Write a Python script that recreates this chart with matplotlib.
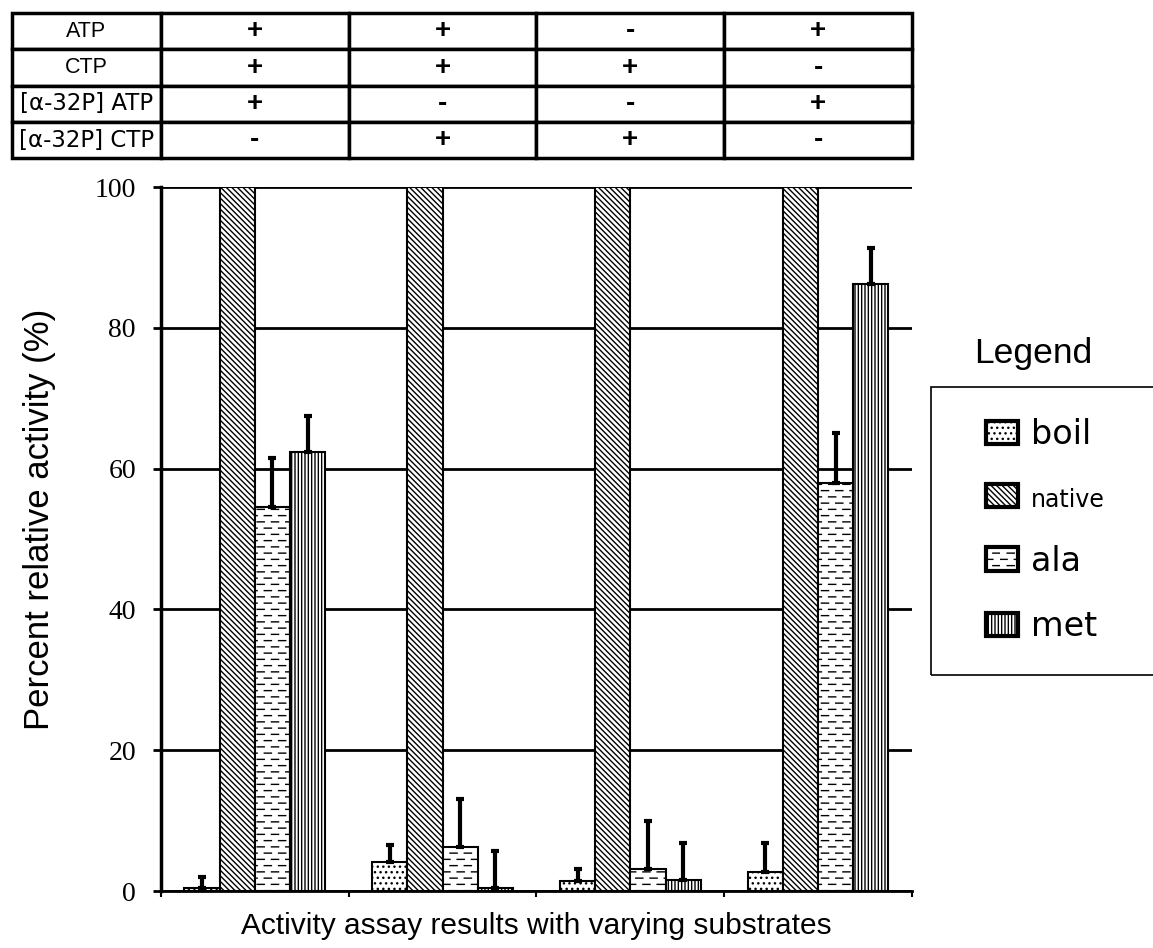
import numpy as np
import matplotlib
matplotlib.use("Agg")
import matplotlib.pyplot as plt
import matplotlib.hatch as mhatch
from matplotlib.path import Path
from matplotlib.patches import Patch, Rectangle

# substrate conditions shown in the table above the bars
conditions = ["ATP", "CTP", "[\u03b1-32P] ATP", "[\u03b1-32P] CTP"]
condition_marks = [
    ["+", "+", "-", "+"],
    ["+", "+", "+", "-"],
    ["+", "-", "-", "+"],
    ["-", "+", "+", "-"],
]

# percent relative activity and upper error for each enzyme form
series = ["boil", "native", "ala", "met"]
boil = [0.5, 4.1, 1.4, 2.7]
boil_err = [1.5, 2.4, 1.7, 4.1]
native = [100, 100, 100, 100]
native_err = [0, 0, 0, 0]
ala = [54.5, 6.2, 3.1, 58.0]
ala_err = [7.0, 6.9, 6.9, 7.1]
met = [62.3, 0.4, 1.5, 86.2]
met_err = [5.2, 5.3, 5.3, 5.1]


class DashRowHatch(mhatch.HatchPatternBase):
    """Staggered rows of short horizontal dashes, used for '-' hatches."""

    def __init__(self, hatch, density):
        self.num_rows = int(hatch.count('-')) * 8
        self.per_row = 7
        self.num_vertices = self.num_rows * self.per_row * 2

    def set_vertices_and_codes(self, vertices, codes):
        period = 1.0 / self.per_row
        dash = period / 2
        k = 0
        for i in range(self.num_rows):
            y = (i + 0.5) / self.num_rows
            shift = dash * (i % 2)
            for j in range(self.per_row):
                x0 = j * period + shift
                vertices[k] = (x0, y)
                vertices[k + 1] = (x0 + dash, y)
                codes[k] = Path.MOVETO
                codes[k + 1] = Path.LINETO
                k += 2


mhatch._hatch_types = [DashRowHatch if h is mhatch.HorizontalHatch else h
                       for h in mhatch._hatch_types]

plt.rcParams['hatch.linewidth'] = 1.0
plt.rcParams['font.family'] = ['Liberation Sans', 'DejaVu Sans']

fig = plt.figure(figsize=(11.53, 9.48), dpi=100)
ax = fig.add_axes([0.1396, 0.0601, 0.6513, 0.7426])

x = np.arange(len(boil))
w = 0.1875
values = [boil, native, ala, met]
errors = [boil_err, native_err, ala_err, met_err]
hatches = ['...', '\\\\\\\\\\\\', '--', '|||||']

for i, (vals, errs, h) in enumerate(zip(values, errors, hatches)):
    pos = x + (i - 1.5) * w
    ax.bar(pos, vals, w, facecolor='white', edgecolor='black', hatch=h,
           linewidth=1.5, zorder=2)
    has_err = np.array(errs) > 0
    ax.errorbar(pos[has_err], np.array(vals)[has_err],
                yerr=[np.zeros(has_err.sum()), np.array(errs)[has_err]],
                fmt='none', ecolor='black', elinewidth=3, capsize=3,
                capthick=3, zorder=3)

ax.set_xlim(-0.5, 3.5)
ax.set_ylim(0, 100)
ax.set_yticks([0, 20, 40, 60, 80, 100])
ax.set_xticks([-0.5, 0.5, 1.5, 2.5, 3.5])
ax.set_xticklabels([])
ax.tick_params(axis='x', direction='out', length=4, width=1.5)
ax.tick_params(axis='y', direction='out', length=6, width=2, pad=12,
               labelsize=20)
for lab in ax.get_yticklabels():
    lab.set_fontfamily('Liberation Serif')

ax.set_axisbelow(True)
ax.yaxis.grid(True, color='black', linewidth=2)
ax.spines['top'].set_visible(False)
ax.spines['right'].set_visible(False)
ax.spines['left'].set_linewidth(2.5)
ax.spines['bottom'].set_linewidth(2)

ax.set_ylabel("Percent relative activity (%)", fontsize=25)
ax.yaxis.set_label_coords(-0.14, 0.528)
ax.set_xlabel("Activity assay results with varying substrates", fontsize=21.5)
ax.xaxis.set_label_coords(0.5, -0.03)

# condition table sitting on top of the plot, columns aligned to groups
cell_text = [[name] + marks for name, marks in zip(conditions, condition_marks)]
label_w = 149 / 751
tbl = ax.table(cellText=cell_text, cellLoc='center',
               colWidths=[label_w, 0.25, 0.25, 0.25, 0.25],
               bbox=[-label_w, 1.041, 1 + label_w, 0.206])
tbl.auto_set_font_size(False)
tbl.set_fontsize(15.5)
tbl.set_clip_on(False)
for (r, c), cell in tbl.get_celld().items():
    cell.set_linewidth(2.5)
    txt = cell.get_text()
    if c == 0:
        if r >= 2:
            txt.set_fontfamily('DejaVu Sans')
            txt.set_fontsize(16.5)
    else:
        txt.set_fontweight('bold')
        txt.set_fontsize(20)

# legend panel on the right
fig.text(1033 / 1153, 1 - 353 / 948, "Legend", fontsize=25.5,
         ha='center', va='center')
fig.add_artist(Rectangle((931 / 1153, 1 - 675 / 948), 0.3, 288 / 948,
                         transform=fig.transFigure, fill=False,
                         edgecolor='black', linewidth=1.2))
handles = [Patch(facecolor='white', edgecolor='black', hatch=h, linewidth=3)
           for h in hatches]
leg = fig.legend(handles, series, loc='upper left',
                 bbox_to_anchor=(986 / 1153, 1 - 418 / 948),
                 frameon=False, fontsize=24, borderpad=0, borderaxespad=0,
                 handlelength=0.95, handleheight=0.7, handletextpad=0.4,
                 labelspacing=0.98)
for t in leg.get_texts():
    t.set_fontfamily('DejaVu Sans')
leg.get_texts()[1].set_fontsize(17)

fig.savefig("out.png", dpi=100)
